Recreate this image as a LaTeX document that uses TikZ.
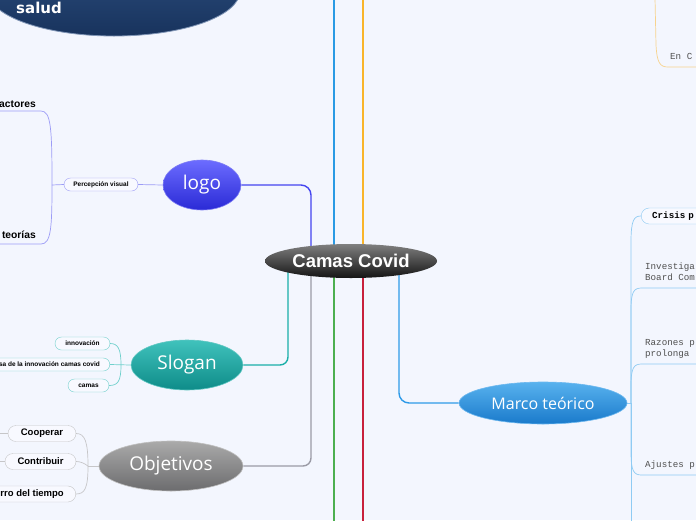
\documentclass[tikz,border=0pt]{standalone}
\usepackage{fontspec}
\setmainfont{Liberation Sans}
\newfontfamily\lightf{Open Sans}
\newfontfamily\monof{Liberation Mono}
\newfontfamily\dejav{DejaVu Sans}
\usetikzlibrary{shapes.geometric}
\pgfdeclarelayer{bglayer}
\pgfsetlayers{bglayer,main}
\definecolor{bgc}{HTML}{F3F6FE}
\definecolor{pillfill}{HTML}{F8F9FF}
\definecolor{logoc}{HTML}{4545F0}
\definecolor{logolight}{HTML}{9C9CF6}
\definecolor{slc}{HTML}{1AAFA8}
\definecolor{sllight}{HTML}{70D0CC}
\definecolor{objc}{HTML}{9B9BA6}
\definecolor{objlight}{HTML}{C6C6C8}
\definecolor{mc}{HTML}{2E9AE8}
\definecolor{mlight}{HTML}{8FCBF3}
\definecolor{tblue}{HTML}{2A9AE4}
\definecolor{torange}{HTML}{F9B52A}
\definecolor{tgreen}{HTML}{4CAF50}
\definecolor{tred}{HTML}{C8203C}
\definecolor{olight}{HTML}{F7D38E}
\definecolor{monogray}{HTML}{505050}
\definecolor{navytop}{HTML}{2E5182}
\definecolor{navybot}{HTML}{18335D}
\definecolor{navyrim}{HTML}{7F95B6}
\tikzset{
  topic/.style={ellipse, inner sep=0pt, text=white, font=\lightf\fontsize{19}{21}\selectfont},
  pill/.style={draw, rounded corners=6.5pt, fill=pillfill, inner sep=0pt, minimum height=13pt,
    text=black, font=\bfseries\fontsize{6.5}{7}\selectfont},
  bigpill/.style={draw=objlight, rounded corners=8pt, fill=pillfill, inner sep=0pt, minimum height=16pt,
    text=black, font=\bfseries\fontsize{9.5}{10}\selectfont},
  monot/.style={inner sep=0pt, align=left, text=monogray, font=\monof\fontsize{9.2}{11}\selectfont},
  sidet/.style={inner sep=0pt, text=black, font=\bfseries\fontsize{10.3}{11}\selectfont},
  logoline/.style={draw=logolight, line width=0.7pt},
  slline/.style={draw=sllight, line width=0.7pt},
  objline/.style={draw=objlight, line width=0.7pt},
  mline/.style={draw=mlight, line width=0.7pt},
}
\begin{document}
\begin{tikzpicture}[x=1pt,y=-1pt]
\useasboundingbox (0,0) rectangle (696,520);
\begin{pgfonlayer}{bglayer}
\fill[bgc] (0,0) rectangle (696,520);
\end{pgfonlayer}

% top-left cut topic
\node[ellipse, minimum width=252pt, minimum height=90pt, inner sep=0pt, draw=navyrim, line width=0.8pt,
  top color=navytop, middle color=navytop!60!navybot, bottom color=navybot] (salud) at (114,-9) {};
\node[anchor=west, inner sep=0pt, text=white, font=\dejav\bfseries\fontsize{15}{16}\selectfont] (saludtxt) at (16,8) {salud};

% central topic
\node[ellipse, inner sep=0pt, minimum width=172pt, minimum height=34pt,
  top color=black!50, middle color=black, bottom color=black!92,
  text=white, font=\bfseries\fontsize{18.5}{20}\selectfont] (center) at (351,261) {Camas Covid};

% main topics
\node[topic, minimum width=78pt, minimum height=50pt, draw=logoc!70, line width=0.6pt,
  top color={rgb,255:red,108;green,108;blue,255}, bottom color={rgb,255:red,42;green,42;blue,214}] (logo) at (202,185) {logo};
\node[topic, minimum width=112pt, minimum height=50pt, draw=slc!70, line width=0.6pt,
  top color={rgb,255:red,64;green,194;blue,188}, bottom color={rgb,255:red,14;green,140;blue,137}] (slogan) at (187,365) {Slogan};
\node[topic, minimum width=144pt, minimum height=50pt, draw=gray!50, line width=0.6pt,
  top color={rgb,255:red,170;green,170;blue,170}, bottom color={rgb,255:red,108;green,108;blue,110}] (obj) at (171,466) {Objetivos};
\node[topic, minimum width=168pt, minimum height=42pt, draw=mc!70, line width=0.6pt,
  font=\lightf\fontsize{16}{18}\selectfont,
  top color={rgb,255:red,88;green,178;blue,238}, bottom color={rgb,255:red,26;green,122;blue,203}] (marco) at (543,403) {Marco teórico};

% logo children
\node[pill, draw=logolight, minimum width=74pt] (perc) at (101,184.5) {Percepción visual};
\node[sidet, anchor=base east] (factores) at (36,107) {actores};
\node[sidet, anchor=base east] (teorias) at (36,238.5) {teorías};
\coordinate (lb) at (52,185);
\coordinate (faE) at (-1,111);
\coordinate (teE) at (-1,244);

% slogan children
\node[pill, draw=sllight, minimum width=55pt] (innov) at (82.5,343.5) {innovación};
\node[pill, draw=sllight, anchor=east, inner xsep=10pt] (midsl) at (110,364.5) {sa de la innovación camas covid};
\node[pill, draw=sllight, minimum width=41pt] (camas) at (88.5,385.5) {camas};
\coordinate (sb) at (121,365);

% objetivos children
\node[bigpill, minimum width=68pt] (coop) at (42,433.5) {Cooperar};
\node[bigpill, minimum width=71pt] (contrib) at (40.5,461.5) {Contribuir};
\node[bigpill, anchor=east, inner xsep=12pt] (tiempo) at (76,494) {rro del tiempo};
\coordinate (ob) at (88,466);
\coordinate (coopL) at (-1,433.5);
\coordinate (contL) at (-1,461.5);

% marco children
\node[draw=mlight, rounded corners=8pt, fill=pillfill, anchor=west, inner xsep=11pt, inner ysep=0pt,
  minimum height=16pt, text width=80pt, align=left, text=black,
  font=\monof\bfseries\fontsize{9.2}{10}\selectfont] (crisis) at (641,216) {Crisis p};
\node[monot, anchor=north west] (inv) at (645,263) {Investiga\\Board Com};
\node[monot, anchor=north west] (raz) at (645,339) {Razones p\\prolonga};
\node[monot, anchor=north west] (aju) at (645,461) {Ajustes p};
\node[monot, anchor=north west] (enc) at (670,53) {En C};
\coordinate (mb) at (631,403);
\coordinate (invE) at (697,288);
\coordinate (razE) at (697,364);
\coordinate (ajuE) at (697,475);
\coordinate (botE) at (631,522);
\coordinate (oc) at (655,-2);
\coordinate (ocE) at (697,67);

% off-screen branch ends
\coordinate (tA) at (334,-2);
\coordinate (tB) at (363,-2);
\coordinate (bA) at (334,522);
\coordinate (bB) at (363,522);

\begin{pgfonlayer}{bglayer}
% main connectors
\draw[tblue, line width=1.8pt] (tA) -- (tA |- center.center);
\draw[torange, line width=1.8pt] (tB) -- (tB |- center.center);
\draw[tgreen, line width=1.8pt] (bA) -- (bA |- center.center);
\draw[tred, line width=1.8pt] (bB) -- (bB |- center.center);
\draw[logoc, line width=1.4pt, rounded corners=10pt] (logo.east) -| ([xshift=-40pt]center.center);
\draw[slc, line width=1.4pt, rounded corners=8pt] (slogan.east) -| ([xshift=-63pt]center.center);
\draw[objc, line width=1.4pt, rounded corners=8pt] (obj.east) -| ([xshift=-40pt]center.center);
\draw[mc, line width=1.4pt, rounded corners=10pt] ([xshift=48pt]center.center) |- (marco.west);

% logo sub
\draw[logoline] (logo.west) -- (perc.east);
\draw[logoline] (perc.west) -- (lb);
\draw[logoline] (lb) .. controls (52,128) and (51,111) .. (41,111) -- (faE);
\draw[logoline] (lb) .. controls (52,228) and (51,244) .. (41,244) -- (teE);

% slogan sub
\draw[slline] (slogan.west) -- (midsl.east);
\draw[slline] (sb) .. controls (121,349) and (118,343.5) .. (innov.east);
\draw[slline] (sb) .. controls (121,381) and (118,385.5) .. (camas.east);

% objetivos sub
\draw[objline] (obj.west) -- (ob);
\draw[objline] (ob) .. controls (88,442) and (85,433.5) .. (coop.east);
\draw[objline] (ob) .. controls (84,463) and (80,461.5) .. (contrib.east);
\draw[objline] (ob) .. controls (88,488) and (85,494) .. (tiempo.east);
\draw[objline] (coop.west) -- (coopL);
\draw[objline] (contrib.west) -- (contL);

% marco sub
\draw[mline] (marco.east) -- (mb);
\draw[mline] (mb) -- (631,242) .. controls (631,220) and (634,216) .. (crisis.west);
\draw[mline] (mb) -- (631,310) .. controls (631,291) and (634,288) .. (642,288) -- (invE);
\draw[mline] (mb) -- (631,386) .. controls (631,367) and (634,364) .. (642,364) -- (razE);
\draw[mline] (mb) -- (631,452) .. controls (631,472) and (634,475) .. (642,475) -- (ajuE);
\draw[mline] (mb) -- (botE);

% top right
\draw[olight, line width=0.7pt] (oc) -- (656,45) .. controls (657,63) and (660,67) .. (668,67) -- (ocE);
\end{pgfonlayer}
\end{tikzpicture}
\end{document}
